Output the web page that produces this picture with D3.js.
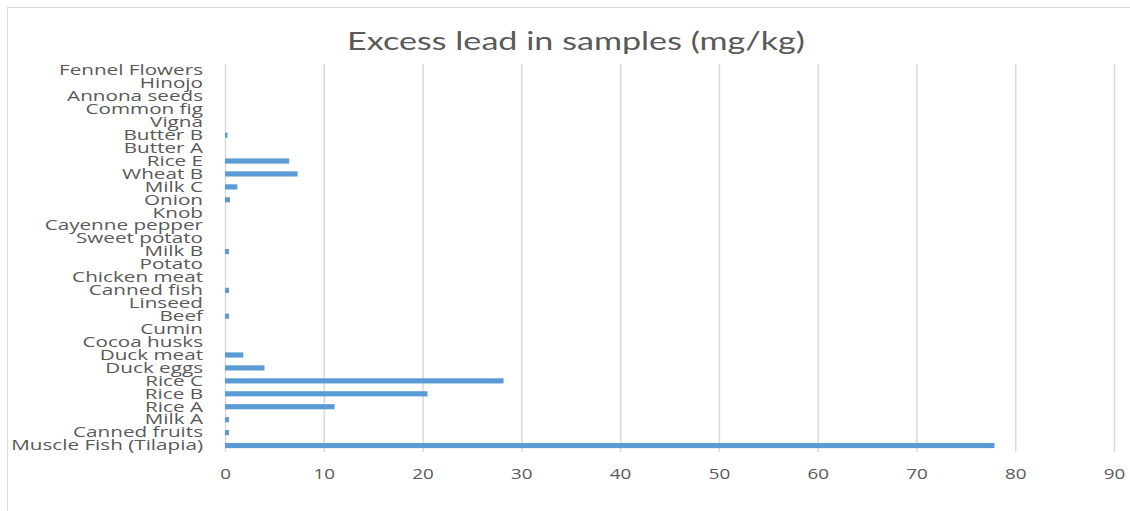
<!DOCTYPE html>
<html>
<head>
<meta charset="utf-8">
<script src="https://cdn.jsdelivr.net/npm/d3@7"></script>
<style>
  body { margin: 0; background: #fff; }
  svg { display: block; }
</style>
</head>
<body>
<svg id="chart" width="1130" height="511"></svg>
<script>
// Categories, bottom to top as drawn
const categories = [
  "Muscle Fish (Tilapia)", "Canned fruits", "Milk A", "Rice A", "Rice B", "Rice C",
  "Duck eggs", "Duck meat", "Cocoa husks", "Cumin", "Beef", "Linseed", "Canned fish",
  "Chicken meat", "Potato", "Milk B", "Sweet potato", "Cayenne pepper", "Knob", "Onion",
  "Milk C", "Wheat B", "Rice E", "Butter A", "Butter B", "Vigna", "Common fig",
  "Annona seeds", "Hinojo", "Fennel Flowers"
];
const values = [
  77.9, 0.4, 0.4, 11.1, 20.5, 28.2,
  4.0, 1.85, 0, 0, 0.4, 0, 0.4,
  0, 0, 0.4, 0, 0, 0, 0.5,
  1.25, 7.35, 6.5, 0, 0.25, 0, 0,
  0, 0, 0
];
const xTicks = [0, 10, 20, 30, 40, 50, 60, 70, 80, 90];
const title = "Excess lead in samples (mg/kg)";

const svg = d3.select("#chart");
const plot = { left: 225, right: 1114, top: 64, bottom: 452 };

// chart border (partially visible in reference)
svg.append("rect")
  .attr("x", 7.5).attr("y", 7.5)
  .attr("width", 1140).attr("height", 530)
  .attr("fill", "none").attr("stroke", "#d9d9d9").attr("stroke-width", 1);

const x = d3.scaleLinear().domain([0, 90]).range([plot.left, plot.right]);
const y = d3.scaleBand()
  .domain(categories.slice().reverse())
  .range([plot.top, plot.bottom])
  .paddingInner(0.6).paddingOuter(0.3);

// horizontal stretch helper: widen text so its width matches the reference
function stretch(sel, anchorX, targetWidth, refNode) {
  const w = refNode.getComputedTextLength();
  const sx = targetWidth / w;
  sel.attr("x", 0).attr("transform", `translate(${anchorX},0) scale(${sx},1)`);
}

// gridlines
const grid = svg.append("g")
  .attr("transform", `translate(0,${plot.bottom})`)
  .call(d3.axisBottom(x).tickValues(xTicks).tickSize(-(plot.bottom - plot.top)).tickFormat(""));
grid.select(".domain").remove();
grid.selectAll("line").attr("stroke", "#d9d9d9").attr("stroke-width", 1.5);

// x tick labels
const xa = svg.append("g")
  .attr("transform", `translate(0,${plot.bottom})`)
  .call(d3.axisBottom(x).tickValues(xTicks).tickSize(0).tickPadding(16));
xa.select(".domain").remove();
const xt = xa.selectAll("text")
  .attr("fill", "#595959")
  .style("font-family", "'Open Sans', sans-serif")
  .style("font-size", "15px");
{
  const ref = xt.filter(d => d === 10).node();
  const sx = 21.5 / ref.getComputedTextLength();
  xt.attr("transform", `scale(${sx},1)`);
}

// bars
svg.append("g").selectAll("rect")
  .data(categories.map((c, i) => ({ c, v: values[i] })))
  .join("rect")
  .attr("x", x(0))
  .attr("y", d => y(d.c))
  .attr("width", d => x(d.v) - x(0))
  .attr("height", y.bandwidth())
  .attr("fill", "#5B9BD5");

// y axis labels
const ya = svg.append("g")
  .attr("transform", `translate(${plot.left},0)`)
  .call(d3.axisLeft(y).tickSize(0).tickPadding(22));
ya.select(".domain").remove();
const yt = ya.selectAll("text")
  .attr("fill", "#595959")
  .style("font-family", "'Open Sans', sans-serif")
  .style("font-size", "15px");
stretch(yt, -22, 192, yt.filter(d => d === "Muscle Fish (Tilapia)").node());

// title
const tt = svg.append("text")
  .attr("y", 50)
  .attr("text-anchor", "middle")
  .attr("fill", "#595959")
  .style("font-family", "Lato, sans-serif")
  .style("font-size", "25px")
  .text(title);
stretch(tt, 576, 458, tt.node());
</script>
</body>
</html>
